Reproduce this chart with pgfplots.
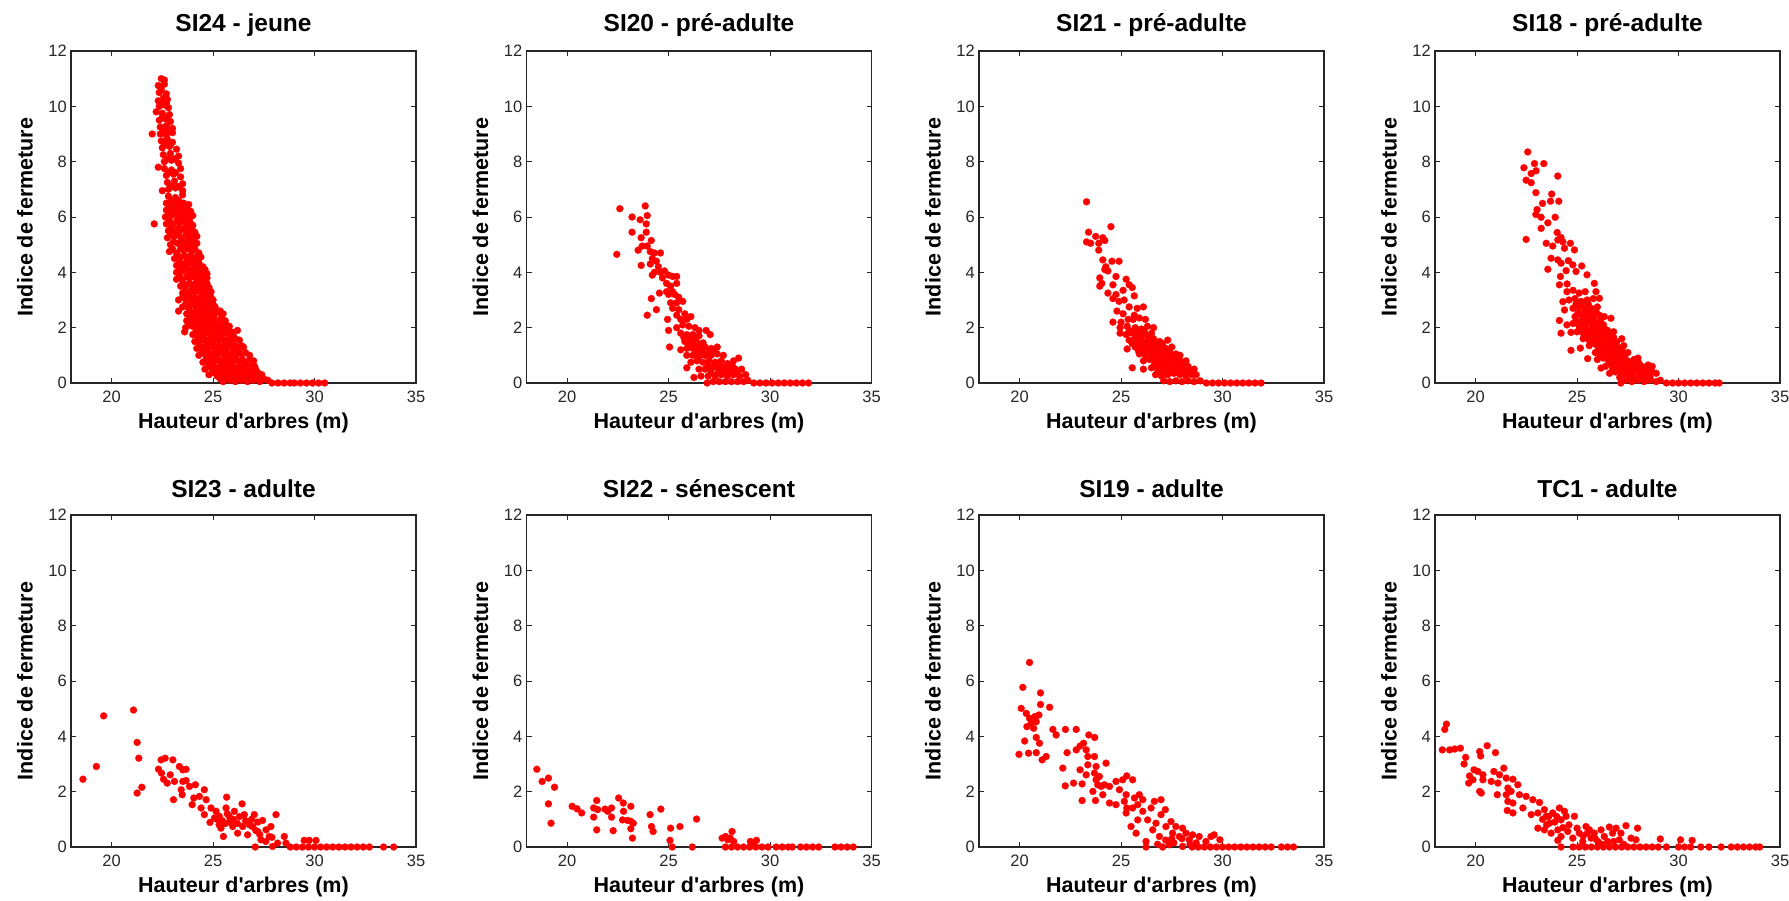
\documentclass[border=0pt]{standalone}
\usepackage{fontspec}
\setmainfont{Liberation Sans}
\usepackage{pgfplots}
\pgfplotsset{compat=1.18}
\pgfplotsset{
  panel/.style={
    scale only axis, width=345pt, height=332pt,
    anchor=south west,
    xmin=18, xmax=35, ymin=0, ymax=12,
    xtick={20,25,30,35}, xticklabels={20,25,30,35},
    ytick={0,2,4,6,8,10,12}, yticklabels={0,2,4,6,8,10,12},
    tick align=inside, major tick length=5pt,
    axis line style={line width=1.1pt, black!85},
    tick style={line width=0.9pt, black!85},
    tick label style={font=\fontsize{16.5}{16.5}\selectfont, black!85, inner sep=0pt},
    xticklabel style={yshift=-8pt},
    yticklabel style={xshift=-4pt},
    clip=false,
    every axis title/.style={at={(axis description cs:0.5,1.0783)}, anchor=center, font=\bfseries\fontsize{24.5}{24.5}\selectfont},
    every axis x label/.style={at={(axis description cs:0.5,-0.1205)}, anchor=center, font=\bfseries\fontsize{21.5}{21.5}\selectfont},
    every axis y label/.style={at={(axis description cs:-0.1333,0.5)}, anchor=center, rotate=90, font=\bfseries\fontsize{21.5}{21.5}\selectfont},
    xlabel={Hauteur d\textquotesingle arbres (m)},
    ylabel={Indice de fermeture},
  },
  dots/.style={only marks, mark=*, mark size=3.5pt, color=red, mark options={fill=red, draw=red, line width=0.2pt}},
}
\begin{document}
\begin{tikzpicture}
\path[use as bounding box] (0,0) rectangle (1789pt,900pt);
% ---------- SI24 ----------
\begin{axis}[panel, at={(71pt,517pt)}, title={SI24 - jeune}]
\addplot[dots] coordinates {
(22.45,11.0)(22.6,10.95)
(22.3,10.75)(22.6,10.8)
(22.35,10.5)(22.7,10.45)
(22.3,10.2)(22.55,10.3)(22.75,10.25)
(22.35,10.0)(22.6,10.05)(22.8,9.95)
(22.2,9.8)(22.5,9.75)(22.85,9.7)
(22.35,9.5)(22.65,9.55)(22.9,9.45)
(22.4,9.25)(22.7,9.3)(23.0,9.2)
(22.0,9.0)(22.4,9.0)(22.7,8.95)(23.0,9.05)
(22.45,8.75)(22.75,8.8)(23.0,8.7)
(22.5,8.5)(22.85,8.55)(23.2,8.45)
(22.55,8.25)(22.9,8.3)(23.3,8.2)
(22.6,8.0)(22.95,8.05)(23.3,7.95)
(22.3,7.8)(22.6,7.75)(22.95,7.7)(23.4,7.75)
(22.7,7.5)(23.05,7.55)(23.4,7.45)
(22.75,7.25)(23.1,7.3)(23.5,7.2)
(22.5,6.95)(22.8,7.0)(23.15,7.05)(23.5,6.95)
(22.8,6.75)(23.15,6.7)(23.5,6.8)
(22.7,6.5)(23.0,6.55)(23.3,6.45)(23.55,6.5)(23.8,6.45)
(22.7,6.25)(23.0,6.2)(23.3,6.3)(23.6,6.25)(23.9,6.2)
(22.65,6.0)(22.95,6.05)(23.3,5.95)(23.65,6.0)(24.0,6.05)
(22.1,5.75)(22.7,5.75)(23.0,5.7)(23.35,5.8)(23.7,5.75)(24.0,5.7)
(22.8,5.5)(23.1,5.45)(23.45,5.55)(23.8,5.5)(24.1,5.45)
(22.75,5.25)(23.1,5.3)(23.45,5.2)(23.85,5.25)(24.2,5.3)
(22.9,5.0)(23.25,5.05)(23.55,4.95)(23.9,5.0)(24.2,5.05)
(22.85,4.75)(23.2,4.7)(23.55,4.8)(23.95,4.75)(24.3,4.7)
(23.1,4.5)(23.4,4.55)(23.75,4.45)(24.1,4.5)(24.4,4.55)
(23.2,4.25)(23.5,4.2)(23.8,4.3)(24.15,4.25)(24.5,4.2)
(23.2,4.0)(23.5,4.05)(23.85,3.95)(24.2,4.0)(24.45,4.05)(24.7,3.95)
(23.2,3.75)(23.5,3.7)(23.85,3.8)(24.2,3.75)(24.45,3.7)(24.7,3.8)
(23.4,3.5)(23.7,3.55)(24.0,3.45)(24.3,3.5)(24.55,3.55)(24.8,3.45)
(23.5,3.25)(23.8,3.2)(24.1,3.3)(24.4,3.25)(24.65,3.2)(24.9,3.3)
(23.3,3.0)(23.65,3.05)(23.95,2.95)(24.25,3.0)(24.5,3.05)(24.75,2.95)(25.0,3.0)
(23.5,2.75)(23.8,2.7)(24.1,2.8)(24.4,2.75)(24.7,2.7)(24.9,2.8)(25.1,2.75)
(23.3,2.6)
(23.7,2.5)(24.0,2.45)(24.3,2.55)(24.6,2.5)(24.9,2.45)(25.2,2.55)(25.5,2.5)
(23.7,2.25)(24.0,2.3)(24.3,2.2)(24.6,2.25)(24.9,2.3)(25.2,2.2)(25.6,2.25)
(23.65,2.0)(24.0,2.05)(24.3,1.95)(24.6,2.0)(24.9,2.05)(25.2,1.95)(25.5,2.0)(25.8,2.05)
(23.6,1.85)(26.2,1.9)
(24.0,1.75)(24.3,1.7)(24.6,1.8)(24.9,1.75)(25.2,1.7)(25.5,1.8)(25.8,1.75)(26.0,1.7)
(24.1,1.5)(24.4,1.55)(24.7,1.45)(25.0,1.5)(25.3,1.55)(25.6,1.45)(25.9,1.5)(26.3,1.55)
(24.2,1.25)(24.5,1.2)(24.8,1.3)(25.1,1.25)(25.4,1.2)(25.7,1.3)(26.0,1.25)(26.25,1.2)(26.5,1.3)
(24.3,1.0)(24.6,1.05)(24.9,0.95)(25.2,1.0)(25.5,1.05)(25.8,0.95)(26.1,1.0)(26.4,1.05)(26.8,1.0)
(24.5,0.75)(24.8,0.7)(25.1,0.8)(25.4,0.75)(25.7,0.7)(26.0,0.8)(26.3,0.75)(26.6,0.7)(27.0,0.8)
(24.6,0.5)(24.9,0.55)(25.2,0.45)(25.5,0.5)(25.8,0.55)(26.1,0.45)(26.4,0.5)(26.7,0.55)(26.9,0.45)(27.1,0.5)
(24.8,0.3)(25.2,0.25)(25.5,0.3)(25.8,0.2)(26.1,0.25)(26.4,0.3)(26.7,0.2)(27.0,0.25)(27.4,0.3)
(25.5,0.05)(25.8,0.1)(26.1,0.05)(26.4,0.1)(26.7,0.05)(27.0,0.1)(27.3,0.05)(27.7,0.1)
(27.9,0)(28.2,0)(28.5,0)(28.8,0)(29.0,0)(29.3,0)(29.6,0)(29.9,0)(30.2,0)(30.5,0)
(22.45,10.6)
(22.45,10.1)(22.7,10.1)
(22.5,9.6)(22.75,9.6)
(22.55,9.1)(22.85,9.1)
(22.6,8.6)(22.9,8.6)
(22.75,8.1)(23.1,8.1)
(22.8,7.6)(23.15,7.6)
(22.95,7.1)(23.3,7.1)
(22.95,6.6)(23.3,6.6)
(22.85,6.35)(23.15,6.35)(23.45,6.35)(23.7,6.35)
(22.85,6.1)(23.15,6.1)(23.45,6.1)(23.8,6.1)
(22.85,5.85)(23.2,5.85)(23.5,5.85)(23.85,5.85)
(22.95,5.6)(23.3,5.6)(23.6,5.6)(23.95,5.6)
(22.95,5.35)(23.3,5.35)(23.65,5.35)(24.0,5.35)
(23.05,5.1)(23.4,5.1)(23.7,5.1)(24.05,5.1)
(23.0,4.85)(23.4,4.85)(23.75,4.85)(24.1,4.85)
(23.25,4.6)(23.6,4.6)(23.9,4.6)(24.25,4.6)
(23.35,4.35)(23.65,4.35)(24.0,4.35)(24.3,4.35)
(23.35,4.1)(23.7,4.1)(24.0,4.1)(24.35,4.1)(24.6,4.1)
(23.35,3.85)(23.7,3.85)(24.0,3.85)(24.35,3.85)(24.6,3.85)
(23.55,3.6)(23.85,3.6)(24.15,3.6)(24.45,3.6)(24.7,3.6)
(23.65,3.35)(23.95,3.35)(24.25,3.35)(24.55,3.35)(24.8,3.35)
(23.5,3.1)(23.8,3.1)(24.1,3.1)(24.4,3.1)(24.65,3.1)(24.9,3.1)
(23.65,2.85)(23.95,2.85)(24.25,2.85)(24.55,2.85)(24.8,2.85)(25.0,2.85)
(23.85,2.6)(24.15,2.6)(24.45,2.6)(24.75,2.6)(25.05,2.6)(25.35,2.6)
(23.85,2.35)(24.15,2.35)(24.45,2.35)(24.75,2.35)(25.05,2.35)(25.4,2.35)
(23.85,2.1)(24.15,2.1)(24.45,2.1)(24.75,2.1)(25.05,2.1)(25.35,2.1)(25.65,2.1)
(24.15,1.85)(24.45,1.85)(24.75,1.85)(25.05,1.85)(25.35,1.85)(25.65,1.85)(25.9,1.85)
(24.25,1.6)(24.55,1.6)(24.85,1.6)(25.15,1.6)(25.45,1.6)(25.75,1.6)(26.1,1.6)
(24.35,1.35)(24.65,1.35)(24.95,1.35)(25.25,1.35)(25.55,1.35)(25.85,1.35)(26.1,1.35)(26.4,1.35)
(24.45,1.1)(24.75,1.1)(25.05,1.1)(25.35,1.1)(25.65,1.1)(25.95,1.1)(26.25,1.1)(26.6,1.1)
(24.65,0.85)(24.95,0.85)(25.25,0.85)(25.55,0.85)(25.85,0.85)(26.15,0.85)(26.45,0.85)(26.8,0.85)
(24.75,0.6)(25.05,0.6)(25.35,0.6)(25.65,0.6)(25.95,0.6)(26.25,0.6)(26.55,0.6)(26.8,0.6)(27.05,0.6)
(25.0,0.38)(25.35,0.38)(25.65,0.38)(25.95,0.38)(26.25,0.38)(26.55,0.38)(26.85,0.38)(27.2,0.38)
(25.35,0.15)(25.65,0.15)(25.95,0.15)(26.25,0.15)(26.55,0.15)(26.85,0.15)(27.15,0.15)(27.5,0.15)
};
\end{axis}
% ---------- SI20 ----------
\begin{axis}[panel, at={(526.5pt,517pt)}, title={SI20 - pré-adulte}]
\addplot[dots] coordinates {
(22.6,6.3)(23.85,6.4)(23.95,6.05)(23.2,6.0)(23.6,5.9)(23.9,5.75)(23.2,5.45)(23.9,5.45)(23.65,5.25)(24.15,5.15)
(23.5,4.8)(23.7,4.95)(23.95,4.95)(22.45,4.65)(23.65,4.25)
(24.1,4.75)(24.3,4.7)(24.6,4.7)(24.2,4.5)(24.4,4.4)(24.1,4.3)(24.5,4.2)(24.3,4.0)(24.2,3.9)
(24.6,4.0)(24.8,4.05)(24.7,3.8)(25.0,3.9)(25.2,3.85)(25.4,3.85)(24.9,3.6)(25.1,3.5)(25.4,3.6)(24.9,3.3)(25.2,3.3)
(24.55,3.25)(24.15,3.05)(23.95,2.45)(24.4,2.65)
(25.0,3.2)(25.3,3.2)(25.5,3.1)(25.1,2.9)(25.4,2.9)(25.7,2.95)(25.2,2.7)(25.5,2.65)(25.8,2.5)(25.4,2.45)(26.1,2.4)(25.6,2.3)(25.9,2.3)
(24.95,2.3)(25.0,1.9)(25.05,1.3)
(25.4,2.0)(25.7,2.1)(26.0,2.05)(26.3,2.0)(26.5,1.9)(25.6,1.8)(25.9,1.75)(26.2,1.75)(26.5,1.7)(26.85,1.9)(27.05,1.75)
(25.8,1.5)(26.1,1.5)(26.4,1.45)(26.7,1.45)(25.6,1.2)(25.9,1.25)(26.2,1.25)(26.5,1.2)(26.8,1.3)(27.1,1.25)(27.4,1.3)
(25.9,1.0)(26.2,1.0)(26.5,0.95)(26.8,1.0)(27.1,1.0)(27.4,1.05)(27.7,1.0)
(25.9,0.55)(26.25,0.2)(26.9,0.0)
(26.1,0.75)(26.4,0.8)(26.7,0.75)(27.0,0.8)(27.3,0.75)(27.6,0.8)(27.9,0.7)(28.2,0.8)(28.45,0.9)
(26.5,0.5)(26.8,0.5)(27.1,0.5)(27.4,0.55)(27.7,0.5)(28.0,0.5)(28.3,0.5)(28.6,0.5)
(26.6,0.25)(26.95,0.25)(27.3,0.25)(27.6,0.3)(27.9,0.25)(28.2,0.3)(28.5,0.25)(28.8,0.3)
(27.2,0.05)(27.5,0.05)(27.8,0.05)(28.1,0.05)(28.4,0.05)(28.7,0.05)(28.9,0.1)
(29.2,0)(29.5,0)(29.8,0)(30.1,0)(30.4,0)(30.7,0)(31.0,0)(31.3,0)(31.6,0)(31.9,0)
(26.95,0.62)(27.25,0.62)(27.55,0.62)(27.85,0.62)(28.15,0.62)(27.1,0.38)(27.45,0.38)(27.75,0.38)(28.05,0.38)(28.35,0.38)
(26.35,1.1)(26.65,1.1)(26.95,1.1)(27.25,1.15)(26.0,1.35)(26.3,1.35)(26.6,1.35)(25.75,1.65)(26.05,1.62)(26.35,1.62)
};
\end{axis}
% ---------- SI21 ----------
\begin{axis}[panel, at={(979pt,517pt)}, title={SI21 - pré-adulte}]
\addplot[dots] coordinates {
(23.3,6.55)(24.5,5.65)(23.4,5.45)(23.75,5.3)(24.1,5.25)(24.2,5.15)(23.3,5.1)(23.5,5.05)(23.9,5.05)(23.9,4.8)
(24.1,4.45)(24.55,4.4)(24.9,4.4)(24.25,4.2)(24.35,4.05)(24.2,4.1)(24.75,3.85)(23.95,3.8)(24.05,3.6)(23.95,3.5)
(24.6,3.55)(25.25,3.75)(25.4,3.55)(25.55,3.45)(25.1,3.35)(24.35,3.25)(24.75,3.2)(25.65,3.15)(24.9,2.95)(25.15,3.0)
(24.6,3.05)(25.4,2.75)(24.8,2.6)(25.1,2.5)(25.8,2.7)(26.1,2.75)(25.65,2.45)(24.6,2.2)(25.0,2.2)(25.35,2.3)
(25.6,2.3)(25.9,2.35)(26.2,2.3)
(24.95,2.0)(25.3,2.05)(25.7,2.0)(26.0,1.95)(26.3,2.05)(26.6,2.0)
(24.95,1.8)(25.25,1.75)(25.55,1.8)(25.85,1.75)(26.15,1.85)(26.5,1.8)
(25.4,1.55)(25.7,1.6)(26.0,1.5)(26.3,1.55)(26.6,1.6)(26.9,1.5)(27.3,1.55)
(25.7,1.3)(26.0,1.35)(26.3,1.25)(26.6,1.3)(26.9,1.35)(27.2,1.25)(27.5,1.3)
(25.3,1.23)
(25.9,1.05)(26.2,1.0)(26.5,1.1)(26.8,1.05)(27.1,1.0)(27.4,1.1)(27.7,1.05)(27.9,1.0)
(26.1,0.8)(26.4,0.85)(26.7,0.75)(27.0,0.8)(27.3,0.85)(27.6,0.75)(27.9,0.8)(28.2,0.8)
(25.55,0.55)(26.1,0.5)(26.5,0.55)(26.8,0.5)(27.1,0.6)(27.4,0.55)(27.7,0.5)(28.0,0.55)(28.3,0.6)(28.6,0.5)
(26.7,0.3)(27.0,0.25)(27.3,0.3)(27.6,0.35)(27.9,0.3)(28.2,0.25)(28.5,0.3)(28.7,0.3)
(27.1,0.08)(27.4,0.05)(27.7,0.08)(28.0,0.05)(28.3,0.08)(28.6,0.05)(28.9,0.08)
(29.2,0)(29.5,0)(29.8,0)(30.1,0)(30.4,0)(30.7,0)(31.0,0)(31.3,0)(31.6,0)(31.9,0)
(25.85,1.17)(26.15,1.17)(26.45,1.17)(26.75,1.17)(27.05,1.17)(27.35,1.17)(26.25,0.93)(26.55,0.93)(26.85,0.93)(27.15,0.93)(27.45,0.93)(27.75,0.93)
(26.65,0.68)(26.95,0.68)(27.25,0.68)(27.55,0.68)(27.85,0.68)(28.1,0.68)(26.9,0.42)(27.2,0.42)(27.5,0.42)(27.8,0.42)(28.1,0.42)(28.4,0.42)
(25.55,1.42)(25.85,1.42)(26.15,1.42)(26.45,1.42)(26.75,1.42)(27.05,1.42)(25.4,1.9)(25.7,1.9)(26.0,1.7)(26.3,1.7)
};
\end{axis}
% ---------- SI18 ----------
\begin{axis}[panel, at={(1435pt,517pt)}, title={SI18 - pré-adulte}]
\addplot[dots] coordinates {
(22.57,8.35)(22.38,7.78)(22.9,7.93)(23.36,7.93)(22.98,7.67)(22.74,7.57)(22.49,7.33)(22.74,7.24)(24.05,7.48)
(22.97,6.88)(23.75,6.83)(23.69,6.57)(24.1,6.57)(23.3,6.49)(23.03,6.27)(22.97,6.09)(23.23,5.99)(23.92,5.99)
(23.56,5.79)(23.23,5.59)(22.49,5.19)(24.02,5.44)(24.21,5.26)(24.05,5.17)(23.48,5.05)(23.8,4.95)(24.3,5.1)
(24.67,5.05)(24.38,4.87)(24.87,4.81)(23.72,4.51)(24.05,4.45)(23.56,4.11)(24.21,4.33)(24.57,4.42)(24.79,4.27)
(25.23,4.23)(24.18,3.85)(24.46,4.06)(24.95,4.03)(25.49,3.91)(24.13,3.55)(24.51,3.58)(25.85,3.6)(25.93,3.3)
(26.1,3.06)(24.3,2.94)(24.38,2.64)(24.13,2.26)(24.21,1.8)(24.7,1.83)(24.7,1.18)(25.16,1.26)(25.52,0.88)
(26.34,2.4)(26.67,2.34)(26.18,0.54)(27.16,0)
(24.5,3.3)(24.8,3.35)(25.1,3.25)(25.4,3.3)
(24.6,3.0)(24.9,3.05)(25.2,2.95)(25.5,3.0)(25.8,3.05)
(24.8,2.7)(25.1,2.75)(25.4,2.65)(25.7,2.7)(26.0,2.75)
(24.9,2.4)(25.2,2.45)(25.5,2.35)(25.8,2.4)(26.1,2.45)
(24.5,2.1)(24.8,2.15)(25.1,2.05)(25.4,2.1)(25.7,2.15)(26.0,2.05)(26.3,2.1)
(25.0,1.85)(25.3,1.8)(25.6,1.9)(25.9,1.85)(26.2,1.8)(26.5,1.9)(26.8,1.85)
(25.3,1.6)(25.6,1.55)(25.9,1.65)(26.2,1.6)(26.5,1.55)(26.8,1.65)(27.2,1.6)
(25.6,1.35)(25.9,1.4)(26.2,1.3)(26.5,1.35)(26.8,1.4)(27.0,1.3)(27.3,1.35)
(25.9,1.1)(26.2,1.15)(26.5,1.05)(26.8,1.1)(27.1,1.15)(27.3,1.05)(27.5,1.1)
(26.0,0.85)(26.3,0.9)(26.6,0.8)(26.9,0.85)(27.2,0.9)(27.5,0.8)(27.8,0.85)(28.0,0.9)
(26.4,0.6)(26.7,0.65)(27.0,0.55)(27.3,0.6)(27.6,0.65)(27.9,0.55)(28.2,0.6)(28.5,0.65)(28.7,0.6)
(26.6,0.35)(26.9,0.4)(27.2,0.3)(27.5,0.35)(27.8,0.4)(28.1,0.3)(28.4,0.35)(28.7,0.4)(28.9,0.35)
(27.4,0.1)(27.7,0.05)(28.0,0.1)(28.3,0.05)(28.6,0.1)(28.9,0.05)(29.1,0.1)
(29.4,0)(29.7,0)(30.0,0)(30.3,0)(30.6,0)(30.9,0)(31.2,0)(31.5,0)(31.8,0)(32.0,0)
(24.95,2.85)(25.25,2.85)(25.55,2.85)(25.05,2.55)(25.35,2.55)(25.65,2.55)(25.95,2.55)(24.95,2.25)(25.25,2.25)(25.55,2.25)(25.85,2.25)(26.15,2.25)
(25.15,1.95)(25.45,1.95)(25.75,1.95)(26.05,1.95)(26.35,1.95)(25.45,1.72)(25.75,1.72)(26.05,1.72)(26.35,1.72)(26.65,1.72)
(25.75,1.48)(26.05,1.48)(26.35,1.48)(26.65,1.48)(26.95,1.48)(26.05,1.22)(26.35,1.22)(26.65,1.22)(26.95,1.22)(27.2,1.22)
(26.15,0.98)(26.45,0.98)(26.75,0.98)(27.05,0.98)(27.35,0.98)(26.55,0.72)(26.85,0.72)(27.15,0.72)(27.45,0.72)(27.75,0.72)(28.05,0.72)
(26.75,0.48)(27.05,0.48)(27.35,0.48)(27.65,0.48)(27.95,0.48)(28.25,0.48)(28.55,0.48)(27.1,0.2)(27.4,0.2)(27.7,0.2)(28.0,0.2)(28.3,0.2)(28.6,0.2)
};
\end{axis}
% ---------- SI23 ----------
\begin{axis}[panel, at={(71pt,53pt)}, title={SI23 - adulte}]
\addplot[dots] coordinates {
(18.59,2.45)(19.25,2.91)(19.61,4.74)(21.08,4.95)(21.26,3.78)(21.34,3.21)(21.26,1.95)(21.49,2.16)
(22.31,2.81)(22.44,3.15)(22.64,3.21)(22.46,2.67)(22.56,2.45)(22.74,2.31)(22.89,2.61)(23.02,3.15)(23.1,2.37)
(23.05,1.71)(23.34,2.91)(23.51,2.79)(23.67,2.81)(23.51,2.37)(23.67,2.4)(23.43,2.07)(23.48,1.89)(23.84,2.19)
(24.13,2.25)(24.05,1.77)(23.97,1.53)(24.33,1.83)(24.57,2.07)(24.66,1.71)(24.41,1.41)(24.57,1.17)(24.9,1.41)
(24.85,0.89)(25.15,1.29)(25.07,1.05)(25.31,1.11)(25.39,0.68)(25.51,0.38)(25.67,1.8)(25.64,1.41)(25.8,1.11)
(25.97,0.74)(26.05,1.29)(26.21,0.5)(26.43,1.56)(26.54,1.17)(26.46,0.74)(26.7,0.44)(27.03,1.17)(26.95,0.74)
(27.08,0)(27.2,0.56)(27.44,0.96)(27.36,0.26)(27.61,0.62)(27.77,0.38)(27.85,0.74)(28.1,1.17)(27.93,0.02)
(28.18,0.14)(28.51,0.38)(28.59,0.14)
(25.2,1.0)(25.45,0.95)(25.6,0.85)(25.3,0.8)(25.8,0.9)(26.0,1.0)(26.2,0.85)(25.7,1.2)(26.3,1.1)(26.6,0.95)
(26.8,0.8)(27.1,0.6)(27.3,0.45)(27.6,0.2)(27.9,0.35)(26.9,1.0)(27.2,0.9)
(29.49,0.24)(29.74,0.24)(30.07,0.24)
(28.8,0)(29.1,0)(29.4,0)(29.7,0)(30.0,0)(30.3,0)(30.6,0)(30.9,0)(31.2,0)(31.5,0)(31.8,0)(32.1,0)(32.4,0)(32.7,0)(33.4,0)(33.9,0)
};
\end{axis}
% ---------- SI22 ----------
\begin{axis}[panel, at={(526.5pt,53pt)}, title={SI22 - sénescent}]
\addplot[dots] coordinates {
(18.51,2.81)(18.77,2.37)(19.08,2.49)(19.38,2.16)(19.08,1.56)(19.21,0.86)(20.25,1.47)(20.49,1.38)(20.72,1.23)
(21.31,1.41)(21.31,1.08)(21.46,1.68)(21.51,1.35)(21.46,0.62)(21.87,1.37)(22.0,1.29)(22.19,1.41)(22.19,1.08)
(22.27,0.59)(22.54,1.77)(22.77,1.59)(22.78,1.29)(22.73,0.98)(22.98,0.96)(23.14,1.47)(23.14,0.93)(23.26,0.86)
(23.14,0.66)(23.22,0.32)(24.09,1.17)(24.16,0.74)(24.24,0.56)(24.62,1.37)(25.07,0.24)(25.1,0.68)(25.18,0)
(25.56,0.74)(26.17,0)(26.38,1.01)(27.64,0.32)(27.81,0.38)(27.92,0.26)(28.13,0.56)(28.04,0.32)(28.21,0.2)
(29.03,0.2)(29.33,0.24)(29.2,0.08)
(27.8,0)(28.1,0)(28.4,0)(28.7,0)(29.0,0)(29.3,0)(29.6,0)(29.9,0)(30.3,0)(30.6,0)(30.9,0)(31.1,0)
(31.5,0)(31.8,0)(32.1,0)(32.4,0)(33.2,0)(33.5,0)(33.8,0)(34.1,0)
};
\end{axis}
% ---------- SI19 ----------
\begin{axis}[panel, at={(979pt,53pt)}, title={SI19 - adulte}]
\addplot[dots] coordinates {
(20.49,6.67)(20.16,5.77)(21.03,5.57)(20.08,5.01)(21.03,5.15)(21.48,5.05)(20.33,4.83)(20.49,4.65)(20.74,4.71)
(20.95,4.77)(20.36,4.35)(20.57,4.47)(20.82,4.53)(20.69,4.29)(21.64,4.25)(21.8,4.05)(22.26,4.25)(22.79,4.25)
(20.82,3.96)(20.25,3.83)(20.98,3.75)(19.97,3.35)(20.44,3.39)(20.82,3.41)(21.11,3.15)(21.31,3.27)(22.34,3.41)
(22.79,3.51)(22.98,3.65)(23.15,3.75)(23.41,4.05)(23.7,3.96)(23.28,3.51)(23.36,3.27)(23.69,3.27)(22.13,2.85)
(22.98,2.79)(23.36,2.97)(23.77,2.91)(24.26,3.03)(23.28,2.61)(23.69,2.67)(23.77,2.43)(23.93,2.55)(22.66,2.31)
(23.08,2.28)(22.25,2.21)(23.85,2.25)(24.02,2.19)(24.18,2.25)(24.43,2.19)(23.61,2.01)(24.1,1.89)(23.08,1.68)
(23.74,1.68)(24.43,1.59)(24.75,1.53)(24.75,2.37)(25.08,2.43)(25.28,2.57)(25.57,2.43)(24.92,2.07)(25.25,1.89)
(25.16,1.65)(25.66,1.77)(25.9,1.89)(25.28,1.41)(25.57,1.41)(25.82,1.53)(26.07,1.71)(25.25,1.23)(25.49,0.74)
(25.74,0.5)(25.82,0.98)(26.07,1.29)(26.23,0)(26.23,0.2)(26.31,0.98)(26.48,1.41)(26.64,1.65)(26.97,1.71)
(26.72,0.86)(26.56,0.62)(26.89,0.38)(26.97,1.17)(27.18,1.35)(27.05,0)(27.21,0.74)(27.46,0.92)(27.54,0.5)
(27.7,0.74)(27.87,0.38)(28.03,0.68)(28.2,0.5)(28.36,0.26)(28.52,0.44)(28.85,0.38)(29.43,0.38)(29.59,0.44)
(29.18,0.2)(29.87,0.26)(27.38,0.08)(28.03,0.02)
(26.8,0.1)(27.2,0.25)(27.6,0.15)(28.0,0.3)(28.4,0.1)(28.7,0.15)(27.5,0.3)
(28.5,0)(28.8,0)(29.1,0)(29.4,0)(29.7,0)(30.0,0)(30.3,0)(30.6,0)(30.9,0)(31.2,0)(31.5,0)(31.8,0)(32.1,0)(32.4,0)(32.9,0)(33.2,0)(33.5,0)
};
\end{axis}
% ---------- TC1 ----------
\begin{axis}[panel, at={(1435pt,53pt)}, title={TC1 - adulte}]
\addplot[dots] coordinates {
(18.56,4.44)(18.48,4.25)(18.36,3.51)(18.72,3.51)(18.97,3.54)(19.25,3.57)(19.51,3.24)(19.43,3.0)(20.2,3.45)
(20.25,3.29)(20.57,3.66)(20.98,3.41)(19.92,2.79)(20.11,2.73)(19.7,2.57)(19.87,2.43)(19.66,2.31)(20.36,2.61)
(20.36,2.43)(20.2,2.01)(20.28,1.95)(20.9,2.73)(21.18,2.61)(20.77,2.37)(21.1,2.31)(21.07,1.89)(21.39,2.85)
(21.51,2.49)(21.84,2.45)(21.59,2.13)(21.75,2.01)(22.08,2.25)(22.16,1.89)(21.51,1.89)(21.59,1.65)(21.84,1.59)
(21.56,1.32)(21.84,1.23)(22.33,1.41)(22.49,1.83)(22.82,1.71)(23.15,1.61)(22.74,1.17)(23.07,1.23)(23.39,1.35)
(23.48,1.11)(23.07,0.68)(23.39,0.62)(23.64,0.86)(23.72,0.5)(23.8,1.23)(24.13,1.41)(24.38,1.29)(24.21,0.98)
(24.46,1.11)(24.87,1.11)(24.05,0.62)(24.21,0.38)(24.21,0)(24.05,0.24)(24.54,0.56)(24.79,0.32)(25.0,0.68)
(25.11,0.5)(25.28,0.2)(25.44,0.74)(25.61,0.62)(25.69,0.32)(25.85,0.5)(26.02,0.2)(26.18,0.62)(26.34,0.38)
(26.59,0.72)(26.75,0.5)(26.92,0.68)(27.08,0.26)(27.16,0.5)(27.41,0.77)(27.66,0.32)(27.9,0.26)(27.98,0.68)
(29.1,0.29)(30.1,0.26)(30.67,0.24)
(23.3,1.0)(23.6,1.1)(23.9,0.9)(24.0,1.1)(23.5,0.8)(24.6,0.8)(24.3,0.7)(25.3,0.4)(25.9,0.3)(26.5,0.2)
(26.2,0.1)(25.5,0.5)(26.8,0.2)(27.3,0.1)
(24.8,0)(25.1,0)(25.4,0)(25.7,0)(26.0,0)(26.3,0)(26.6,0)(26.9,0)(27.2,0)(27.5,0)(27.8,0)(28.1,0)(28.4,0)
(28.7,0)(29.0,0)(29.4,0)(30.0,0)(30.3,0)(30.6,0)(31.1,0)(31.5,0)(32.1,0)(32.6,0)(32.9,0)(33.2,0)(33.5,0)(33.8,0)(34.0,0)
};
\end{axis}
\end{tikzpicture}
\end{document}
